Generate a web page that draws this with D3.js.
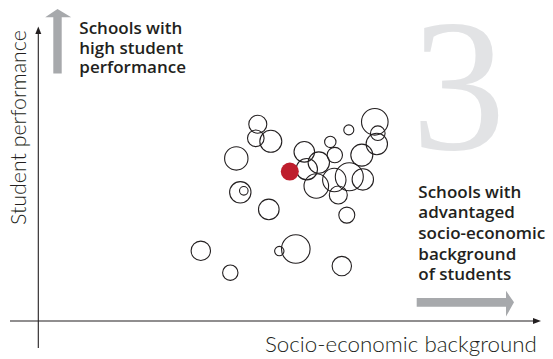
<!DOCTYPE html>
<html>
<head>
<meta charset="utf-8">
<script src="https://cdn.jsdelivr.net/npm/d3@7"></script>
<style>
html,body{margin:0;padding:0;background:#fff;}
svg{display:block;}
</style>
</head>
<body>
<svg id="chart" width="553" height="359"></svg>
<script>
// ---- data ----
const schoolX = [43.9,43.5,46.5,39.6,67.3,62.1,67.9,67.7,58.4,53.2,59.3,64.7,56.1,53.7,50.3,59.2,62.2,64.9,55.6,60.0,40.4,41.1,46.1,61.7,32.5,51.5,48.2,38.4,60.7];
const schoolY = [65.6,60.9,59.9,54.2,66.4,63.7,62.6,59.0,59.7,56.4,55.3,55.3,52.8,50.6,49.8,47.0,48.1,47.2,45.0,42.0,42.9,43.4,37.2,35.3,23.4,24.0,23.3,16.1,18.3];
const schoolSize = [20.3,17.2,30.3,34.2,44.2,6.3,13.3,28.6,8.1,26.5,14.8,30.3,28.6,28.6,20.3,34.2,49,28.6,37.8,20.3,28.6,4.6,26.5,16,23.5,51.1,5.5,14.8,23.5];
const highlighted = [false,false,false,false,false,false,false,false,false,false,false,false,false,false,true,false,false,false,false,false,false,false,false,false,false,false,false,false,false];
const xAxisLabel = "Socio-economic background";
const yAxisLabel = "Student performance";
const topNote = ["Schools with","high student","performance"];
const rightNote = ["Schools with","advantaged","socio-economic","background","of students"];
const panelNumber = "3";

const svg = d3.select("#chart");
const x = d3.scaleLinear().domain([0,100]).range([38.3,538.3]);
const y = d3.scaleLinear().domain([0,100]).range([321,21]);
const r = d3.scaleSqrt().domain([0,100]).range([0,20]);

// big numeral
const num = svg.append("text")
  .attr("font-family","Liberation Serif")
  .attr("font-size",188)
  .attr("fill","#e2e3e5")
  .text(panelNumber);
{
  const w = num.node().getComputedTextLength();
  num.attr("x", 458.5 - w/2).attr("y", 149);
}

// axes
const ax = svg.append("g").attr("stroke","#231f20").attr("stroke-width",1.1);
ax.append("line").attr("x1",x(0)).attr("x2",x(0)).attr("y1",348).attr("y2",31);
ax.append("line").attr("x1",10).attr("x2",536).attr("y1",y(0)).attr("y2",y(0));
svg.append("path").attr("fill","#231f20")
  .attr("d",`M${x(0)},26.5 L${x(0)-3},34 L${x(0)+3},34 Z`);
svg.append("path").attr("fill","#231f20")
  .attr("d",`M541,${y(0)} L533,${y(0)-3} L533,${y(0)+3} Z`);

// gray arrows
const gray = "#a7a9ac";
svg.append("path").attr("fill",gray)
  .attr("d","M53.3,73.5 L53.3,17.3 L45.2,17.3 L57.5,9 L71.2,17.3 L61.7,17.3 L61.7,73.5 Z");
svg.append("path").attr("fill",gray)
  .attr("d","M416.7,298 L506,298 L506,290.8 L514,302.3 L506,316.5 L506,306.7 L416.7,306.7 Z");

// circles
const data = schoolX.map((v,i)=>({x:v,y:schoolY[i],s:schoolSize[i],h:highlighted[i]}));
svg.append("g").selectAll("circle").data(data.filter(d=>!d.h)).join("circle")
  .attr("cx",d=>x(d.x)).attr("cy",d=>y(d.y)).attr("r",d=>r(d.s))
  .attr("fill","none").attr("stroke","#231f20").attr("stroke-width",1.1);
svg.append("g").selectAll("circle").data(data.filter(d=>d.h)).join("circle")
  .attr("cx",d=>x(d.x)).attr("cy",d=>y(d.y)).attr("r",d=>r(d.s))
  .attr("fill","#be1e2d");

// fit helper
function fit(sel, target){
  const w = sel.node().getComputedTextLength();
  const fs = parseFloat(sel.attr("font-size"));
  sel.attr("font-size", fs*target/w);
  return fs*target/w;
}

// notes
const boldFont = "'Open Sans', 'Noto Sans', sans-serif";
const probe = svg.append("text").attr("font-family",boldFont).attr("font-weight",600).attr("font-size",15).text("Schools with");
const bfs = fit(probe,103);
probe.remove();
const tn = svg.append("text").attr("font-family",boldFont).attr("font-weight",600).attr("font-size",bfs).attr("fill","#231f20");
topNote.forEach((t,i)=>tn.append("tspan").attr("x",79.3).attr("y",34.3+i*19.5).text(t));
const rn = svg.append("text").attr("font-family",boldFont).attr("font-weight",600).attr("font-size",bfs).attr("fill","#231f20");
rightNote.forEach((t,i)=>rn.append("tspan").attr("x",418.3).attr("y",197.7+i*20.6).text(t));

// axis labels
const lblFont = "Lato, 'Open Sans', sans-serif";
const xl = svg.append("text").attr("x",265).attr("y",351.5).attr("font-family",lblFont).attr("font-weight",300)
  .attr("font-size",20).attr("fill","#231f20").text(xAxisLabel);
fit(xl,272);
const yl = svg.append("text").attr("transform","translate(25.5,225) rotate(-90)").attr("font-family",lblFont).attr("font-weight",300)
  .attr("font-size",20).attr("fill","#231f20").text(yAxisLabel);
fit(yl,195);
</script>
</body>
</html>
